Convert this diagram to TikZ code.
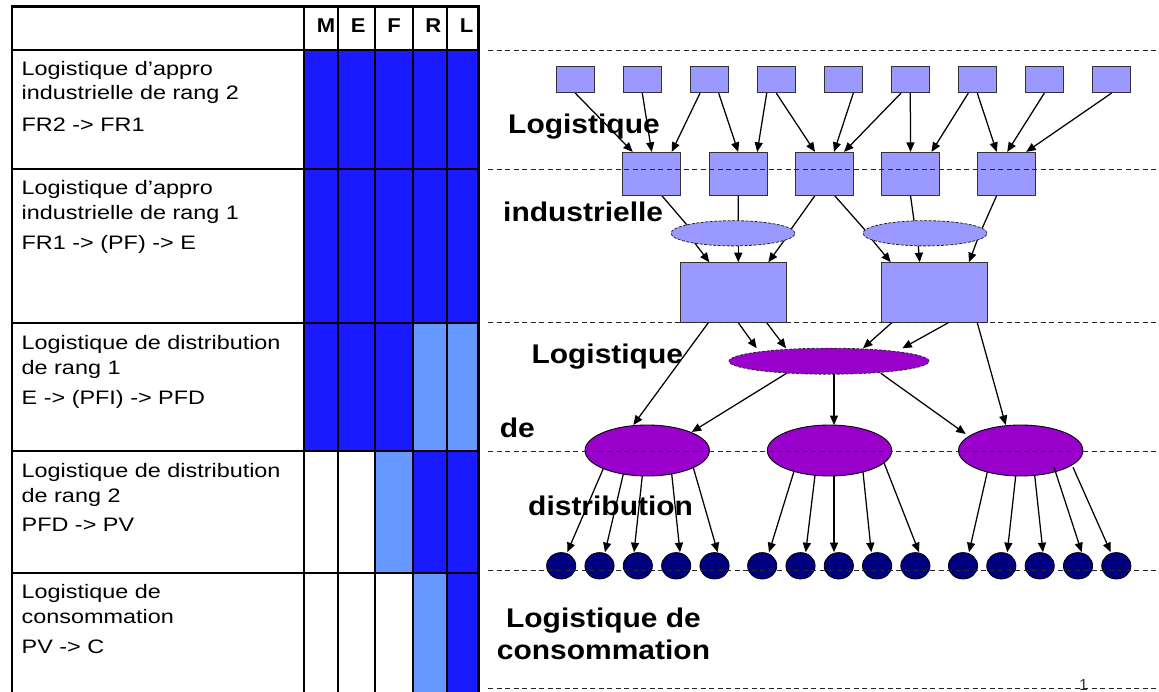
\documentclass[tikz,border=0pt]{standalone}
\usepackage{fontspec}
\setmainfont{Liberation Sans}
\newfontfamily\tabfont{Liberation Sans}[FakeStretch=1.2]
\newfontfamily\lblfont{Liberation Sans}[FakeStretch=1.11]
\newfontfamily\hdfont{Liberation Sans}[FakeStretch=1.1]
\usetikzlibrary{shapes.geometric,arrows.meta,backgrounds}
\definecolor{dkblue}{HTML}{1A1AFF}
\definecolor{ltblue}{HTML}{6699FF}
\definecolor{boxblue}{HTML}{9999FF}
\definecolor{purp}{HTML}{9900CC}
\definecolor{navyc}{HTML}{000080}
\begin{document}
\begin{tikzpicture}[x=1pt,y=-1pt,
  tbox/.style={draw=black!80,line width=0.9pt,fill=boxblue,inner sep=0pt,minimum width=38.7pt,minimum height=26pt},
  mbox/.style={draw=black!80,line width=0.9pt,fill=boxblue,inner sep=0pt,minimum width=58pt,minimum height=42.7pt},
  bbox/.style={draw=black!80,line width=0.9pt,fill=boxblue,inner sep=0pt,minimum width=105.3pt,minimum height=59.6pt},
  lell/.style={ellipse,draw=black!85,line width=0.8pt,dash pattern=on 3pt off 1.5pt,fill=boxblue,inner sep=0pt,minimum width=124pt,minimum height=25.2pt},
  mell/.style={ellipse,draw=black!85,line width=0.8pt,dash pattern=on 3pt off 1.5pt,fill=purp,inner sep=0pt,minimum width=200pt,minimum height=26pt},
  pell/.style={ellipse,draw=black,line width=0.9pt,fill=purp,inner sep=0pt,minimum width=124.4pt,minimum height=51pt},
  dotc/.style={ellipse,draw=black,line width=0.8pt,fill=navyc,inner sep=0pt,minimum width=29.2pt,minimum height=26.4pt},
  arr/.style={-{Triangle[length=9.5pt,width=8pt]},line width=1.25pt},
  ln/.style={line width=1.25pt},
  sepl/.style={dash pattern=on 5pt off 3.5pt,line width=0.9pt,black!85},
  tt/.style={anchor=base west,inner sep=0pt,font=\tabfont\fontsize{19.5}{23}\selectfont},
  hd/.style={anchor=base,inner sep=0pt,font=\hdfont\bfseries\fontsize{20}{24}\selectfont},
  lb/.style={anchor=base west,inner sep=0pt,font=\lblfont\bfseries\fontsize{27}{32}\selectfont},
  lbc/.style={anchor=base,inner sep=0pt,font=\lblfont\bfseries\fontsize{27}{32}\selectfont}]
\useasboundingbox (0,0) rectangle (1159,692);
% ---------- table fills ----------
\fill[dkblue] (304,50) rectangle (478,323);
\fill[dkblue] (304,323) rectangle (413,451);
\fill[ltblue] (413,323) rectangle (478,451);
\fill[ltblue] (375,451) rectangle (413,573);
\fill[dkblue] (413,451) rectangle (478,573);
\fill[ltblue] (413,573) rectangle (447,692);
\fill[dkblue] (447,573) rectangle (478,692);
% ---------- table lines ----------
\foreach \y in {169,323,451,573} \draw[line width=1.8pt] (12,\y) -- (478,\y);
\draw[line width=2.3pt] (12,50) -- (478,50);
\foreach \x in {338,375,413,447} \draw[line width=1.8pt] (\x,6.7) -- (\x,692);
\draw[line width=2.2pt] (304,6.7) -- (304,692);
\draw[line width=2.4pt,line join=miter] (12,692) -- (12,6.7) -- (478.3,6.7) -- (478.3,692);
% ---------- header ----------
\node[hd] (hM) at (326,32.7) {M};
\node[hd] (hE) at (358.3,32.7) {E};
\node[hd] (hF) at (394,32.7) {F};
\node[hd] (hR) at (433.3,32.7) {R};
\node[hd] (hL) at (466.7,32.7) {L};
% ---------- table texts ----------
\node[tt] (r1a) at (21.5,76) {Logistique d’appro};
\node[tt] (r1b) at (21.5,100) {industrielle de rang 2};
\node[tt] (r1c) at (21.5,131.7) {FR2 -> FR1};
\node[tt] (r2a) at (21.5,195) {Logistique d’appro};
\node[tt] (r2b) at (21.5,219.5) {industrielle de rang 1};
\node[tt] (r2c) at (21.5,250) {FR1 -> (PF) -> E};
\node[tt] (r3a) at (21.5,349.3) {Logistique de distribution};
\node[tt] (r3b) at (21.5,374) {de rang 1};
\node[tt] (r3c) at (21.5,404) {E -> (PFI) -> PFD};
\node[tt] (r4a) at (21.5,477.7) {Logistique de distribution};
\node[tt] (r4b) at (21.5,502.3) {de rang 2};
\node[tt] (r4c) at (21.5,531.7) {PFD -> PV};
\node[tt] (r5a) at (21.5,598.3) {Logistique de};
\node[tt] (r5b) at (21.5,623.3) {consommation};
\node[tt] (r5c) at (21.5,653.3) {PV -> C};
% ---------- right labels ----------
\node[lb] (la) at (508,133.3) {Logistique};
\node[lb] (lbb) at (503,221.7) {industrielle};
\node[lb] (lc) at (531.3,363.3) {Logistique};
\node[lb] (ld) at (499.7,437.3) {de};
\node[lb] (le) at (528,515) {distribution};
\node[lbc] (lf) at (603.5,627.3) {Logistique de};
\node[lbc] (lg) at (603.5,659.3) {consommation};
\node[anchor=base,inner sep=0pt,font=\fontsize{16}{18}\selectfont,text=black!80] (pg) at (1083.5,690) {1};
% ---------- nodes ----------
\foreach \i/\x in {1/575.3,2/642.3,3/709.3,4/776.3,5/843.3,6/910.3,7/977.3,8/1044.3,9/1111.5}
  \node[tbox] (t\i) at (\x,79.7) {};
\node[mbox] (A) at (651.7,173.7) {};
\node[mbox] (B) at (738.2,173.7) {};
\node[mbox] (C) at (824.5,173.7) {};
\node[mbox] (D) at (910.5,173.7) {};
\node[mbox] (E) at (1006.2,173.7) {};
\node[lell] (e1) at (733,233.3) {};
\node[lell] (e2) at (925,233.3) {};
\node[bbox] (P) at (733.3,292.5) {};
\node[bbox] (Q) at (934.5,292.5) {};
\node[mell] (m) at (829,361.2) {};
\node[pell] (L1) at (647.2,450.5) {};
\node[pell] (L2) at (829.5,450.5) {};
\node[pell] (L3) at (1020.7,450.5) {};
\foreach \i/\x in {1/561.2,2/599.5,3/637.8,4/676.2,5/714.5,6/762.2,7/800.5,8/838.8,9/877.1,10/915.4,11/963,12/1001.3,13/1039.7,14/1078,15/1116.3}
  \node[dotc] (c\i) at (\x,565.8) {};
% ---------- top boxes -> second row ----------
\draw[arr] (t1.south) -- ([xshift=-19]A.north);
\draw[arr] (t2.south) -- (A.north);
\draw[arr] ([xshift=-9.3]t3.south) -- ([xshift=20]A.north);
\draw[arr] ([xshift=9.4]t3.south) -- (B.north);
\draw[arr] ([xshift=-9.6]t4.south) -- ([xshift=19]B.north);
\draw[arr] (t4.south) -- ([xshift=-9.5]C.north);
\draw[arr] ([xshift=10]t5.south) -- ([xshift=9.5]C.north);
\draw[arr] ([xshift=-9.3]t6.south) -- ([xshift=19.5]C.north);
\draw[arr] (t6.south) -- (D.north);
\draw[arr] ([xshift=-9]t7.south) -- ([xshift=21]D.north);
\draw[arr] (t7.south) -- ([xshift=-9.5]E.north);
\draw[arr] (t8.south) -- ([xshift=1]E.north);
\draw[arr] (t9.south) -- ([xshift=20]E.north);
% ---------- through light ellipses (behind) ----------
\begin{scope}[on background layer]
\draw[ln,shorten >=-8pt] ([xshift=10]A.south) -- ([shift={(-49.7,-12.6)}]e1.center);
\draw[ln] (B.south) -- ([shift={(5.3,0)}]e1.center);
\draw[ln,shorten >=-8pt] ([xshift=-9.5]C.south) -- ([shift={(58.7,-5)}]e1.center);
\draw[ln,shorten >=-8pt] ([xshift=10]C.south) -- ([shift={(-60,-3.3)}]e2.center);
\draw[ln,shorten >=-8pt] (D.south) -- ([shift={(-11,-12.6)}]e2.center);
\draw[ln,shorten >=-8pt] ([xshift=-9.5]E.south) -- ([shift={(57.3,-5.3)}]e2.center);
\draw[arr,shorten <=-6pt] ([shift={(-38,10)}]e1.center) -- ([xshift=-24]P.north);
\draw[arr,shorten <=-6pt] ([shift={(5.3,12.7)}]e1.center) -- ([xshift=5]P.north);
\draw[arr,shorten <=-6pt] ([shift={(50.3,8.4)}]e1.center) -- ([xshift=35]P.north);
\draw[arr,shorten <=-6pt] ([shift={(-52.7,6.7)}]e2.center) -- ([xshift=-43.8]Q.north);
\draw[arr,shorten <=-6pt] ([shift={(-6.7,12.7)}]e2.center) -- ([xshift=-14.8]Q.north);
\draw[arr,shorten <=-6pt] ([shift={(52.3,6.7)}]e2.center) -- ([xshift=34.5]Q.north);
\end{scope}
% ---------- big boxes -> distribution ----------
\draw[arr] ([xshift=-25]P.south) -- ([shift={(-13.9,-25.5)}]L1.center);
\draw[arr] ([xshift=5]P.south) -- ([shift={(-72.3,-12.9)}]m.center);
\draw[arr] ([xshift=33.4]P.south) -- ([shift={(-43,-12.9)}]m.center);
\draw[arr] ([xshift=-42.8]Q.south) -- ([shift={(34,-12.9)}]m.center);
\draw[arr] ([xshift=13.8]Q.south) -- ([shift={(73.3,-12.9)}]m.center);
\draw[arr] ([xshift=42.8]Q.south) -- ([shift={(-15,-25.5)}]L3.center);
\draw[arr] ([shift={(-42.3,12)}]m.center) -- ([shift={(44.5,-18.5)}]L1.center);
\draw[arr] ([shift={(5,13)}]m.center) -- ([shift={(4.5,-25.5)}]L2.center);
\draw[arr] ([shift={(51.7,12)}]m.center) -- ([shift={(-55,-16.5)}]L3.center);
% ---------- distribution -> points of sale ----------
\draw[arr] ([shift={(-43.9,18.1)}]L1.center) -- ([xshift=6.1]c1.north);
\draw[arr] ([shift={(-23.9,23.5)}]L1.center) -- ([xshift=5.5]c2.north);
\draw[arr] ([shift={(-4.9,25.4)}]L1.center) -- ([xshift=-3.8]c3.north);
\draw[arr] ([shift={(24.5,23.4)}]L1.center) -- ([xshift=3.8]c4.north);
\draw[arr] ([shift={(46.1,17.1)}]L1.center) -- ([xshift=3.2]c5.north);
\draw[arr] ([shift={(-35.5,20.9)}]L2.center) -- ([xshift=6.8]c6.north);
\draw[arr] ([shift={(-14.5,24.8)}]L2.center) -- ([xshift=5.2]c7.north);
\draw[arr] ([shift={(4.5,25.4)}]L2.center) -- ([xshift=-4.8]c8.north);
\draw[arr] ([shift={(33.5,21.5)}]L2.center) -- ([xshift=-5.8]c9.north);
\draw[arr] ([shift={(54.5,12.3)}]L2.center) -- ([xshift=3.6]c10.north);
\draw[arr] ([shift={(-33.4,21.5)}]L3.center) -- ([xshift=6]c11.north);
\draw[arr] ([shift={(-5,25.4)}]L3.center) -- ([xshift=6]c12.north);
\draw[arr] ([shift={(14,24.8)}]L3.center) -- ([xshift=3.3]c13.north);
\draw[arr] ([shift={(33.3,16.8)}]L3.center) -- ([xshift=3.7]c14.north);
\draw[arr] ([shift={(52.3,16.8)}]L3.center) -- ([xshift=-5.6]c15.north);
% ---------- dashed separators ----------
\foreach \y in {50,169.3,322.5,451,570,688.3}
  \draw[sepl] (488,\y) -- (1159,\y);
\end{tikzpicture}
\end{document}
